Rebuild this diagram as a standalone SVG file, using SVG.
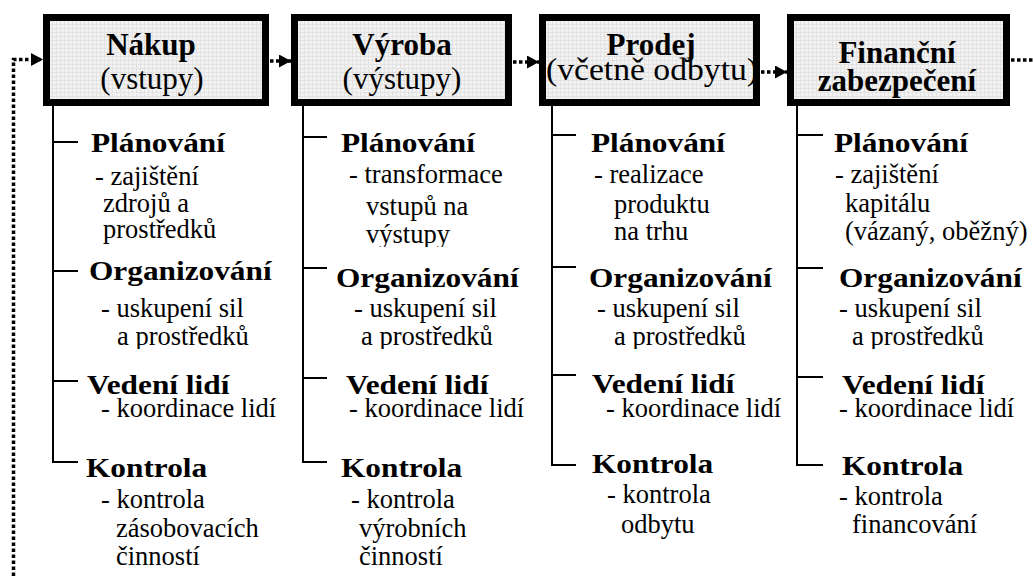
<svg xmlns="http://www.w3.org/2000/svg" width="1033" height="576" viewBox="0 0 1033 576">
  <defs>
    <pattern id="grid" width="4" height="4" patternUnits="userSpaceOnUse">
      <rect width="4" height="4" fill="#f2f2f2"/>
      <path d="M0 0.5H4M0.5 0V4" stroke="#e3e3e3" stroke-width="1"/>
    </pattern>
    <marker id="arrow" viewBox="0 0 10 10" refX="10" refY="5" markerWidth="12" markerHeight="13" markerUnits="userSpaceOnUse" orient="auto" preserveAspectRatio="none">
      <path d="M0 0L10 5L0 10Z" fill="#000"/>
    </marker>
    <clipPath id="clipOrg"><rect x="0" y="0" width="1033" height="349"/></clipPath>
    <clipPath id="clipOut"><rect x="0" y="0" width="1033" height="247"/></clipPath>
  </defs>

  <rect width="1033" height="576" fill="#fff"/>

  <!-- flow connectors (dotted) -->
  <g id="connectors" fill="none" stroke="#000" stroke-width="3.5" stroke-dasharray="3.5 2.5">
    <path d="M13.5 576V59.5H43" marker-end="url(#arrow)"/>
    <path d="M270 61H291" marker-end="url(#arrow)"/>
    <path d="M513 62H539" marker-end="url(#arrow)"/>
    <path d="M761 72H787" marker-end="url(#arrow)"/>
    <path d="M1011 60H1033"/>
  </g>

  <!-- Nákup -->
  <g id="nakup">
    <rect x="46.5" y="17.5" width="219" height="85" fill="url(#grid)" stroke="#000" stroke-width="7"/>
    <text font-family="Liberation Serif" font-size="31" font-weight="bold" text-anchor="middle" x="151" y="55">Nákup</text>
    <text font-family="Liberation Serif" font-size="31" text-anchor="middle" x="152" y="89">(vstupy)</text>
    <path d="M53 106V462H78M53 142H78M53 271H78M53 381H78" fill="none" stroke="#000" stroke-width="2"/>
    <text font-family="Liberation Serif" font-size="27" font-weight="bold" transform="translate(91,152) scale(1.16,1)">Plánování</text>
    <text font-family="Liberation Serif" font-size="26.5" x="95" y="185">- zajištění</text>
    <text font-family="Liberation Serif" font-size="26.5" x="103" y="212">zdrojů a</text>
    <text font-family="Liberation Serif" font-size="26.5" x="103" y="238">prostředků</text>
    <text font-family="Liberation Serif" font-size="27" font-weight="bold" transform="translate(89,280) scale(1.16,1)">Organizování</text>
    <text font-family="Liberation Serif" font-size="26.5" x="101" y="317">- uskupení sil</text>
    <text font-family="Liberation Serif" font-size="26.5" x="117" y="345" clip-path="url(#clipOrg)">a prostředků</text>
    <text font-family="Liberation Serif" font-size="27" font-weight="bold" transform="translate(87,394) scale(1.16,1)">Vedení lidí</text>
    <text font-family="Liberation Serif" font-size="26.5" x="101" y="417">- koordinace lidí</text>
    <text font-family="Liberation Serif" font-size="27" font-weight="bold" transform="translate(86,477) scale(1.16,1)">Kontrola</text>
    <text font-family="Liberation Serif" font-size="26.5" x="101" y="508">- kontrola</text>
    <text font-family="Liberation Serif" font-size="26.5" x="116" y="537">zásobovacích</text>
    <text font-family="Liberation Serif" font-size="26.5" x="116" y="565">činností</text>
  </g>

  <!-- Výroba -->
  <g id="vyroba">
    <rect x="294.5" y="17.5" width="214" height="85" fill="url(#grid)" stroke="#000" stroke-width="7"/>
    <text font-family="Liberation Serif" font-size="31" font-weight="bold" text-anchor="middle" x="402" y="55">Výroba</text>
    <text font-family="Liberation Serif" font-size="31" text-anchor="middle" x="402" y="89">(výstupy)</text>
    <path d="M303 106V462H327M303 137H327M303 268H327M303 378H327" fill="none" stroke="#000" stroke-width="2"/>
    <text font-family="Liberation Serif" font-size="27" font-weight="bold" transform="translate(341,152) scale(1.16,1)">Plánování</text>
    <text font-family="Liberation Serif" font-size="26.5" x="349" y="183">- transformace</text>
    <text font-family="Liberation Serif" font-size="26.5" x="366" y="215">vstupů na</text>
    <text font-family="Liberation Serif" font-size="26.5" x="366" y="243" clip-path="url(#clipOut)">výstupy</text>
    <text font-family="Liberation Serif" font-size="27" font-weight="bold" transform="translate(336,287) scale(1.16,1)">Organizování</text>
    <text font-family="Liberation Serif" font-size="26.5" x="354" y="317">- uskupení sil</text>
    <text font-family="Liberation Serif" font-size="26.5" x="361" y="345" clip-path="url(#clipOrg)">a prostředků</text>
    <text font-family="Liberation Serif" font-size="27" font-weight="bold" transform="translate(346,394) scale(1.16,1)">Vedení lidí</text>
    <text font-family="Liberation Serif" font-size="26.5" x="349" y="417">- koordinace lidí</text>
    <text font-family="Liberation Serif" font-size="27" font-weight="bold" transform="translate(341,477) scale(1.16,1)">Kontrola</text>
    <text font-family="Liberation Serif" font-size="26.5" x="351" y="508">- kontrola</text>
    <text font-family="Liberation Serif" font-size="26.5" x="359" y="537">výrobních</text>
    <text font-family="Liberation Serif" font-size="26.5" x="359" y="565">činností</text>
  </g>

  <!-- Prodej -->
  <g id="prodej">
    <rect x="542.5" y="17.5" width="214" height="85" fill="url(#grid)" stroke="#000" stroke-width="7"/>
    <text font-family="Liberation Serif" font-size="31" font-weight="bold" text-anchor="middle" x="651" y="55">Prodej</text>
    <text font-family="Liberation Serif" font-size="31" text-anchor="middle" x="652" y="80" textLength="212" lengthAdjust="spacingAndGlyphs">(včetně odbytu)</text>
    <path d="M552 106V465H576M552 135H576M552 267H576M552 375H576" fill="none" stroke="#000" stroke-width="2"/>
    <text font-family="Liberation Serif" font-size="27" font-weight="bold" transform="translate(591,152) scale(1.16,1)">Plánování</text>
    <text font-family="Liberation Serif" font-size="26.5" x="594" y="183">- realizace</text>
    <text font-family="Liberation Serif" font-size="26.5" x="614" y="213">produktu</text>
    <text font-family="Liberation Serif" font-size="26.5" x="614" y="240">na trhu</text>
    <text font-family="Liberation Serif" font-size="27" font-weight="bold" transform="translate(589,287) scale(1.16,1)">Organizování</text>
    <text font-family="Liberation Serif" font-size="26.5" x="597" y="317">- uskupení sil</text>
    <text font-family="Liberation Serif" font-size="26.5" x="614" y="345" clip-path="url(#clipOrg)">a prostředků</text>
    <text font-family="Liberation Serif" font-size="27" font-weight="bold" transform="translate(592,393) scale(1.16,1)">Vedení lidí</text>
    <text font-family="Liberation Serif" font-size="26.5" x="606" y="417">- koordinace lidí</text>
    <text font-family="Liberation Serif" font-size="27" font-weight="bold" transform="translate(592,473) scale(1.16,1)">Kontrola</text>
    <text font-family="Liberation Serif" font-size="26.5" x="607" y="503">- kontrola</text>
    <text font-family="Liberation Serif" font-size="26.5" x="621" y="533">odbytu</text>
  </g>

  <!-- Finanční zabezpečení -->
  <g id="financni">
    <rect x="790.5" y="17.5" width="216" height="85" fill="url(#grid)" stroke="#000" stroke-width="7"/>
    <text font-family="Liberation Serif" font-size="31" font-weight="bold" text-anchor="middle" x="897" y="63">Finanční</text>
    <text font-family="Liberation Serif" font-size="31" font-weight="bold" text-anchor="middle" x="897" y="91">zabezpečení</text>
    <path d="M797 106V465H823M797 135H823M797 268H823M797 377H823" fill="none" stroke="#000" stroke-width="2"/>
    <text font-family="Liberation Serif" font-size="27" font-weight="bold" transform="translate(834,152) scale(1.16,1)">Plánování</text>
    <text font-family="Liberation Serif" font-size="26.5" x="835" y="183">- zajištění</text>
    <text font-family="Liberation Serif" font-size="26.5" x="845" y="212">kapitálu</text>
    <text font-family="Liberation Serif" font-size="26.5" x="845" y="240">(vázaný, oběžný)</text>
    <text font-family="Liberation Serif" font-size="27" font-weight="bold" transform="translate(839,287) scale(1.16,1)">Organizování</text>
    <text font-family="Liberation Serif" font-size="26.5" x="839" y="317">- uskupení sil</text>
    <text font-family="Liberation Serif" font-size="26.5" x="852" y="345" clip-path="url(#clipOrg)">a prostředků</text>
    <text font-family="Liberation Serif" font-size="27" font-weight="bold" transform="translate(842,394) scale(1.16,1)">Vedení lidí</text>
    <text font-family="Liberation Serif" font-size="26.5" x="839" y="417">- koordinace lidí</text>
    <text font-family="Liberation Serif" font-size="27" font-weight="bold" transform="translate(842,475) scale(1.16,1)">Kontrola</text>
    <text font-family="Liberation Serif" font-size="26.5" x="839" y="505">- kontrola</text>
    <text font-family="Liberation Serif" font-size="26.5" x="852" y="533">financování</text>
  </g>
</svg>
